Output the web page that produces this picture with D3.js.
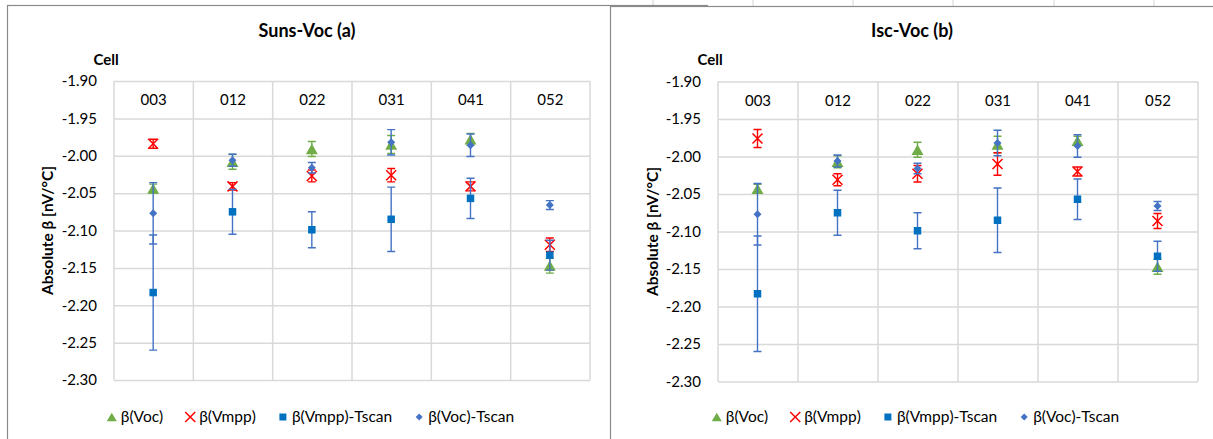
<!DOCTYPE html>
<html>
<head>
<meta charset="utf-8">
<script src="https://cdn.jsdelivr.net/npm/d3@7"></script>
<style>
  body { margin: 0; background: #fff; }
  svg { display: block; font-family: Lato, "Open Sans", sans-serif; }
</style>
</head>
<body>
<svg id="chart" width="1213" height="439"></svg>
<script>
// cells on the category axis
const cells = ["003", "012", "022", "031", "041", "052"];
const yTicks = [-1.90, -1.95, -2.00, -2.05, -2.10, -2.15, -2.20, -2.25, -2.30];
const seriesNames = ["β(Voc)", "β(Vmpp)", "β(Vmpp)-Tscan", "β(Voc)-Tscan"];

// Suns-Voc (a)
const sunsVoc     = [-2.044, -2.008, -1.991, -1.985, -1.978, -2.147];
const sunsVocErr  = [0.006, 0.010, 0.010, 0.012, 0.008, 0.010];
const sunsVmpp    = [-1.984, -2.041, -2.027, -2.026, -2.041, -2.119];
const sunsVmppErr = [0.006, 0.005, 0.008, 0.009, 0.006, 0.009];

// Isc-Voc (b)
const iscVoc      = [-2.043, -2.007, -1.991, -1.984, -1.979, -2.147];
const iscVocErr   = [0.006, 0.008, 0.010, 0.011, 0.006, 0.010];
const iscVmpp     = [-1.976, -2.031, -2.023, -2.010, -2.020, -2.086];
const iscVmppErr  = [0.012, 0.008, 0.011, 0.015, 0.006, 0.010];

// temperature scan (same in both panels)
const tscanVmpp    = [-2.183, -2.075, -2.099, -2.085, -2.057, -2.133];
const tscanVmppErr = [0.077, 0.030, 0.024, 0.043, 0.027, 0.020];
const tscanVoc     = [-2.077, -2.006, -2.016, -1.982, -1.986, -2.066];
const tscanVocErr  = [0.041, 0.008, 0.007, 0.017, 0.015, 0.006];

const GREEN = "#70AD47", RED = "#FF0000", SQ = "#0070C0", DIA = "#4472C4";
const GRID = "#D9D9D9";
const FS = 15;

const svg = d3.select("#chart");

// spreadsheet cell lines peeking above the right chart
svg.selectAll(".cellline").data([653, 753, 853, 953, 1054, 1154]).enter()
  .append("line")
  .attr("x1", d => d).attr("x2", d => d)
  .attr("y1", 0).attr("y2", 6)
  .attr("stroke", "#d4d4d4");

// marker shapes, centred on their bounding box
function triPath(w) {
  const h = w * 0.87;
  return `M0,${-h / 2}L${w / 2},${h / 2}L${-w / 2},${h / 2}Z`;
}
function diaPath(w) {
  return `M0,${-w / 2}L${w / 2},0L0,${w / 2}L${-w / 2},0Z`;
}
function drawMarker(g, type, x, y, big) {
  if (type === 0) {
    g.append("path").attr("d", triPath(big ? 12 : 10))
      .attr("transform", `translate(${x},${y})`).attr("fill", GREEN);
  } else if (type === 1) {
    const r = 5;
    g.append("path")
      .attr("d", `M${x - r},${y - r}L${x + r},${y + r}M${x - r},${y + r}L${x + r},${y - r}`)
      .attr("stroke", RED).attr("stroke-width", 1.5).attr("fill", "none");
  } else if (type === 2) {
    const s = big ? 7.5 : 7;
    g.append("rect").attr("x", x - s / 2).attr("y", y - s / 2)
      .attr("width", s).attr("height", s).attr("fill", SQ);
  } else {
    g.append("path").attr("d", diaPath(big ? 8 : 7))
      .attr("transform", `translate(${x},${y})`).attr("fill", DIA);
  }
}

function drawPanel(p) {
  const root = svg.append("g");
  root.append("rect")
    .attr("x", p.box[0] + 0.5).attr("y", p.box[1] + 0.5)
    .attr("width", p.box[2]).attr("height", 500)
    .attr("fill", "#fff").attr("stroke", "#8a8a8a").attr("stroke-width", 1.2);

  const x = d3.scaleBand().domain(cells).range([p.left, p.right]).padding(0);
  const y = d3.scaleLinear().domain([-2.30, -1.90]).range([p.bottom, p.top]);

  // horizontal grid + tick labels
  const yAxis = d3.axisLeft(y).tickValues(yTicks).tickFormat(d => d.toFixed(2))
    .tickSize(-(p.right - p.left)).tickPadding(17);
  const ga = root.append("g").attr("transform", `translate(${p.left},0)`).call(yAxis);
  ga.select(".domain").remove();
  ga.selectAll("line").attr("stroke", GRID).attr("stroke-width", 1.5);
  ga.selectAll("text").attr("font-size", FS).attr("fill", "#000")
    .attr("font-family", "Lato, sans-serif");

  // vertical category lines
  const edges = cells.map(c => x(c)).concat([p.right]);
  root.selectAll(".vline").data(edges).enter().append("line")
    .attr("x1", d => d).attr("x2", d => d)
    .attr("y1", p.top).attr("y2", p.bottom)
    .attr("stroke", GRID).attr("stroke-width", 1.5);

  // category labels sit in the top band
  root.selectAll(".cat").data(cells).enter().append("text")
    .attr("x", d => x(d) + x.bandwidth() / 2)
    .attr("y", (y(-1.90) + y(-1.95)) / 2)
    .attr("dy", "0.35em")
    .attr("text-anchor", "middle")
    .attr("font-size", FS)
    .text(d => d);

  const cx = c => x(c) + x.bandwidth() / 2 - 0.5;

  const series = [
    { vals: p.voc, err: p.vocErr, color: GREEN },
    { vals: p.vmpp, err: p.vmppErr, color: RED },
    { vals: tscanVmpp, err: tscanVmppErr, color: DIA },
    { vals: tscanVoc, err: tscanVocErr, color: DIA }
  ];
  series.forEach((s, k) => {
    const g = root.append("g");
    cells.forEach((c, i) => {
      const xc = cx(c), v = s.vals[i], e = s.err[i];
      const y1 = y(v + e), y2 = y(v - e);
      g.append("path")
        .attr("d", `M${xc},${y1}L${xc},${y2}M${xc - 4},${y1}L${xc + 4},${y1}M${xc - 4},${y2}L${xc + 4},${y2}`)
        .attr("stroke", s.color).attr("stroke-width", 1.4).attr("fill", "none");
      drawMarker(g, k, xc, y(v), true);
    });
  });

  // titles
  root.append("text").attr("x", p.titleX).attr("y", 37)
    .attr("text-anchor", "middle").attr("font-size", 18).attr("font-weight", "bold")
    .text(p.title);
  root.append("text").attr("x", p.cellX).attr("y", 65)
    .attr("text-anchor", "middle").attr("font-size", FS).attr("font-weight", "bold")
    .text("Cell");
  root.append("text")
    .attr("transform", `translate(${p.ylabX},${(p.top + p.bottom) / 2}) rotate(-90)`)
    .attr("text-anchor", "middle").attr("dy", "0.35em")
    .attr("font-size", FS + 0.5).attr("font-weight", "bold")
    .text("Absolute β [nV/°C]");

  // legend
  const lg = root.append("g");
  const items = seriesNames.map((name, k) => {
    const t = lg.append("text").attr("font-size", FS + 0.5).attr("y", 417).attr("dy", "0.35em").text(name);
    return { k, t, w: t.node().getComputedTextLength() };
  });
  const toText = 9, gap = 27;
  let total = 0;
  items.forEach((it, i) => { total += toText + it.w + (i < items.length - 1 ? gap : 0); });
  let pos = p.legendMid - total / 2 + 4;
  items.forEach(it => {
    drawMarker(lg, it.k, pos, 417, false);
    it.t.attr("x", pos + toText);
    pos += toText + it.w + gap;
  });
}

drawPanel({
  box: [7, 5, 700], left: 114, right: 590, top: 81, bottom: 380,
  title: "Suns-Voc (a)", titleX: 307, cellX: 106, ylabX: 48, legendMid: 309,
  voc: sunsVoc, vocErr: sunsVocErr, vmpp: sunsVmpp, vmppErr: sunsVmppErr
});
drawPanel({
  box: [610, 6, 700], left: 718, right: 1198, top: 81.5, bottom: 381.5,
  title: "Isc-Voc (b)", titleX: 912, cellX: 710, ylabX: 653, legendMid: 914,
  voc: iscVoc, vocErr: iscVocErr, vmpp: iscVmpp, vmppErr: iscVmppErr
});
</script>
</body>
</html>
